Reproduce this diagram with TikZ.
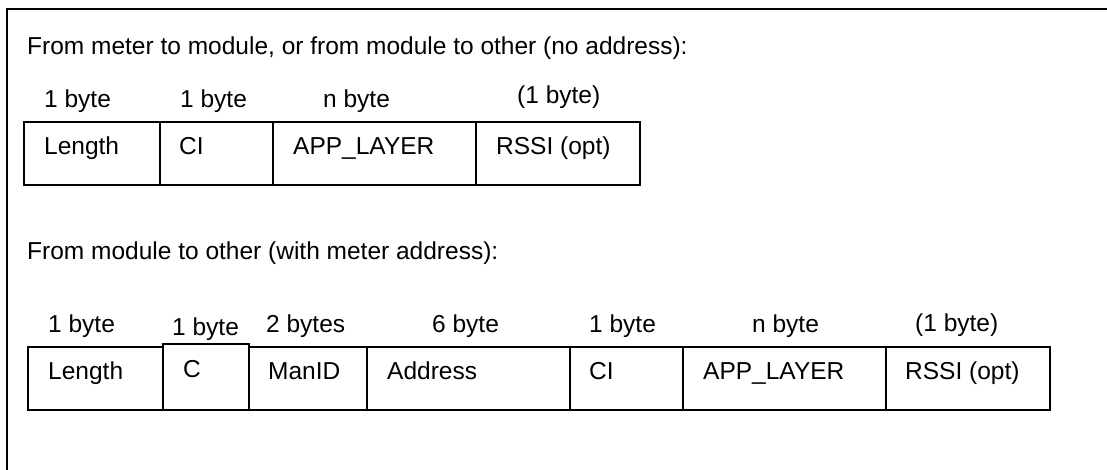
\documentclass[tikz,border=0pt]{standalone}
\usepackage{fontspec}
\setmainfont{Liberation Sans}
\begin{document}
\begin{tikzpicture}[x=1pt,y=-1pt,
  field/.style={draw,line width=1.5pt,inner sep=0pt,outer sep=0pt,anchor=north west},
  txt/.style={anchor=base west,inner sep=0pt,font=\fontsize{24.5}{29}\selectfont}]
\useasboundingbox (0,0) rectangle (1107,470);
\begin{scope}
\clip (0,0) rectangle (1107,470);
\draw[line width=2pt] (7,9) rectangle (1130,490);
\end{scope}
% row 1
\node[txt] (t1) at (27,55) {From meter to module, or from module to other (no address):};
\node[field,minimum width=136pt,minimum height=63pt] (a1) at (24,122) {};
\node[field,minimum width=113pt,minimum height=63pt] (a2) at (160,122) {};
\node[field,minimum width=203pt,minimum height=63pt] (a3) at (273,122) {};
\node[field,minimum width=164pt,minimum height=63pt] (a4) at (476,122) {};
\node[txt] (l11) at (44,108) {1 byte};
\node[txt] (l12) at (180,108) {1 byte};
\node[txt] (l13) at (323,108) {n byte};
\node[txt] (l14) at (517,104) {(1 byte)};
\node[txt] (f11) at (44,155) {Length};
\node[txt] (f12) at (179,155) {CI};
\node[txt] (f13) at (293,155) {APP\_LAYER};
\node[txt] (f14) at (496,155) {RSSI (opt)};
% row 2
\node[txt] (t2) at (27,259) {From module to other (with meter address):};
\node[field,minimum width=135pt,minimum height=63pt] (b1) at (28,347) {};
\node[field,minimum width=86pt,minimum height=66pt] (b2) at (163,344) {};
\node[field,minimum width=118pt,minimum height=63pt] (b3) at (249,347) {};
\node[field,minimum width=203pt,minimum height=63pt] (b4) at (367,347) {};
\node[field,minimum width=113pt,minimum height=63pt] (b5) at (570,347) {};
\node[field,minimum width=203pt,minimum height=63pt] (b6) at (683,347) {};
\node[field,minimum width=164pt,minimum height=63pt] (b7) at (886,347) {};
\node[txt] (l21) at (48,332) {1 byte};
\node[txt] (l22) at (172,335) {1 byte};
\node[txt] (l23) at (266,332) {2 bytes};
\node[txt] (l24) at (432,332) {6 byte};
\node[txt] (l25) at (589,332) {1 byte};
\node[txt] (l26) at (752,332) {n byte};
\node[txt] (l27) at (915,331) {(1 byte)};
\node[txt] (f21) at (48,379) {Length};
\node[txt] (f22) at (183,377) {C};
\node[txt] (f23) at (268,379) {ManID};
\node[txt] (f24) at (387,379) {Address};
\node[txt] (f25) at (589,379) {CI};
\node[txt] (f26) at (703,379) {APP\_LAYER};
\node[txt] (f27) at (905,379) {RSSI (opt)};
\end{tikzpicture}
\end{document}
